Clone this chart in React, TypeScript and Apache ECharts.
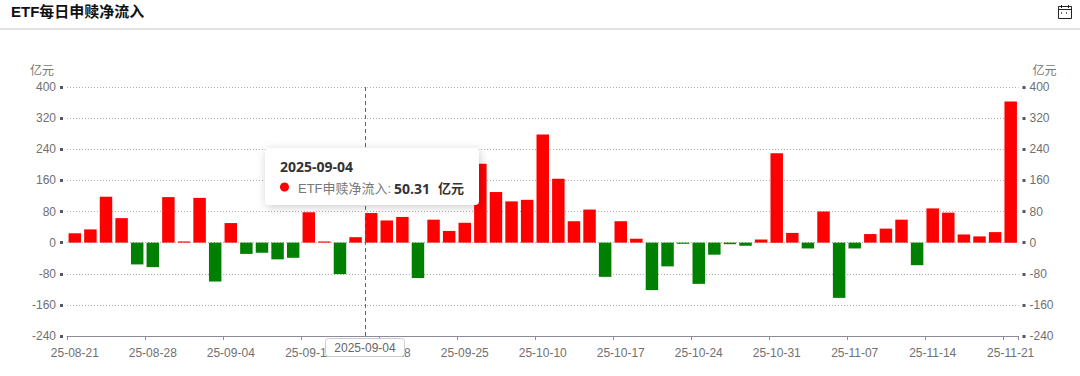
import React, { useEffect, useRef } from "react";
import * as echarts from "echarts";

const dates = [
  "25-08-21","25-08-22","25-08-25","25-08-26","25-08-27",
  "25-08-28","25-08-29","25-09-01","25-09-02","25-09-03",
  "25-09-04","25-09-05","25-09-08","25-09-09","25-09-10",
  "25-09-11","25-09-12","25-09-15","25-09-16","25-09-17",
  "25-09-18","25-09-19","25-09-22","25-09-23","25-09-24",
  "25-09-25","25-09-26","25-09-29","25-09-30","25-10-09",
  "25-10-10","25-10-13","25-10-14","25-10-15","25-10-16",
  "25-10-17","25-10-20","25-10-21","25-10-22","25-10-23",
  "25-10-24","25-10-27","25-10-28","25-10-29","25-10-30",
  "25-10-31","25-11-03","25-11-04","25-11-05","25-11-06",
  "25-11-07","25-11-10","25-11-11","25-11-12","25-11-13",
  "25-11-14","25-11-17","25-11-18","25-11-19","25-11-20",
  "25-11-21",
];
const netInflow = [
  24, 34, 118, 63, -56, -63, 117, 3, 115, -100,
  50.31, -29, -26, -43, -39, 78, 3, -81, 14, 76,
  57, 66, -91, 59, 30, 51, 203, 130, 106, 110,
  278, 164, 55, 85, -88, 55, 10, -122, -61, -3,
  -106, -31, -4, -8, 8, 230, 25, -15, 80, -142,
  -15, 22, 36, 59, -58, 88, 77, 21, 16, 27,
  363,
];
const TITLE = "ETF每日申赎净流入";
const SERIES_NAME = "ETF申赎净流入";
const UNIT = "亿元";
const TIP_DATE = "2025-09-04";
const TIP_VALUE = "50.31";

const LATIN = '"Liberation Sans", "Noto Sans CJK SC", sans-serif';
const TIP_FONT = '"Open Sans", "Noto Sans CJK SC", sans-serif';

const yAxisBase = (side: "left" | "right") => ({
  type: "value" as const,
  position: side,
  min: -240,
  max: 400,
  interval: 80,
  offset: 4,
  name: UNIT,
  nameLocation: "end" as const,
  nameGap: 10,
  nameTextStyle: {
    color: "#777",
    fontSize: 12,
    fontFamily: LATIN,
    align: side === "left" ? ("right" as const) : ("left" as const),
    padding: side === "left" ? [0, 9, 0, 0] : [0, 0, 0, 10],
  },
  axisLine: { show: false },
  axisTick: { show: true, length: 3, lineStyle: { color: "#555566", width: 3 } },
  axisLabel: { color: "#707070", fontSize: 12, fontFamily: LATIN, margin: 7 },
});

export default function App() {
  const ref = useRef<HTMLDivElement>(null);

  useEffect(() => {
    document.body.style.margin = "0";
    const chart = echarts.init(ref.current!, undefined, { renderer: "svg" });
    chart.setOption({
      animation: false,
      backgroundColor: "#fff",
      title: {
        text: TITLE,
        left: 6,
        top: -1,
        textStyle: { color: "#111", fontSize: 15, fontWeight: "bold", fontFamily: LATIN },
      },
      grid: { left: 67, right: 61.5, top: 87, height: 249 },
      xAxis: {
        type: "category",
        data: dates,
        axisLine: { lineStyle: { color: "#8a8a9a", width: 1 }, onZero: false },
        axisTick: { show: true, interval: 4, length: 4, lineStyle: { color: "#8a8a9a" } },
        axisLabel: { interval: 4, color: "#707070", fontSize: 12, fontFamily: LATIN, margin: 11 },
      },
      yAxis: [
        {
          ...yAxisBase("left"),
          splitLine: { show: true, lineStyle: { color: "#b0b0b0", type: [1, 2], width: 1 } },
        },
        { ...yAxisBase("right"), splitLine: { show: false } },
      ],
      series: [
        {
          type: "bar",
          name: SERIES_NAME,
          data: netInflow,
          barWidth: "80%",
          itemStyle: {
            color: (p: any) => (p.value >= 0 ? "#ff0000" : "#008000"),
          },
        },
      ],
      graphic: [
        // header rule
        { type: "rect", z: 5, shape: { x: 0, y: 28, width: 1080, height: 2 }, style: { fill: "#e2e2e2" } },
        // calendar icon
        {
          type: "group",
          z: 5,
          children: [
            { type: "rect", shape: { x: 1058.5, y: 6.5, width: 13, height: 12 }, style: { fill: "none", stroke: "#222", lineWidth: 1 } },
            { type: "line", shape: { x1: 1058.5, y1: 9.5, x2: 1071.5, y2: 9.5 }, style: { stroke: "#222", lineWidth: 1 } },
            { type: "line", shape: { x1: 1061.5, y1: 5, x2: 1061.5, y2: 8 }, style: { stroke: "#222", lineWidth: 1 } },
            { type: "line", shape: { x1: 1068.5, y1: 5, x2: 1068.5, y2: 8 }, style: { stroke: "#222", lineWidth: 1 } },
            { type: "rect", shape: { x: 1061, y: 12, width: 1, height: 2 }, style: { fill: "#666" } },
            { type: "rect", shape: { x: 1066, y: 12, width: 1, height: 2 }, style: { fill: "#666" } },
          ],
        },
        // axis pointer
        {
          type: "line",
          z: 50,
          shape: { x1: 365.5, y1: 87, x2: 365.5, y2: 336 },
          style: { stroke: "#666", lineWidth: 1, lineDash: [4, 3] },
        },
        {
          type: "rect",
          z: 51,
          shape: { x: 325.5, y: 338.5, width: 79, height: 18, r: 3 },
          style: { fill: "#fff", stroke: "#ccc", lineWidth: 1 },
        },
        {
          type: "text",
          z: 52,
          x: 365,
          y: 348,
          style: { text: TIP_DATE, fill: "#666", font: `12px ${LATIN}`, align: "center", verticalAlign: "middle" },
        },
        // tooltip
        {
          type: "rect",
          z: 60,
          shape: { x: 265, y: 148, width: 214, height: 57, r: 4 },
          style: { fill: "#fff", shadowColor: "rgba(0,0,0,0.2)", shadowBlur: 10, shadowOffsetX: 1, shadowOffsetY: 2 },
        },
        {
          type: "text",
          z: 61,
          x: 280,
          y: 166,
          style: { text: TIP_DATE, fill: "#333", font: `bold 14px ${TIP_FONT}`, align: "left", verticalAlign: "middle" },
        },
        { type: "circle", z: 61, shape: { cx: 284.5, cy: 187, r: 4.5 }, style: { fill: "#ff0000" } },
        {
          type: "text",
          z: 61,
          x: 298,
          y: 188,
          style: { text: SERIES_NAME + ":", fill: "#777", font: `13px ${LATIN}`, align: "left", verticalAlign: "middle" },
        },
        {
          type: "text",
          z: 61,
          x: 394,
          y: 188,
          style: { text: TIP_VALUE, fill: "#333", font: `bold 14px ${TIP_FONT}`, align: "left", verticalAlign: "middle" },
        },
        {
          type: "text",
          z: 61,
          x: 438,
          y: 188,
          style: { text: UNIT, fill: "#333", font: `bold 13px ${TIP_FONT}`, align: "left", verticalAlign: "middle" },
        },
      ],
    });
    return () => chart.dispose();
  }, []);

  return <div ref={ref} style={{ width: 1080, height: 376 }} />;
}
